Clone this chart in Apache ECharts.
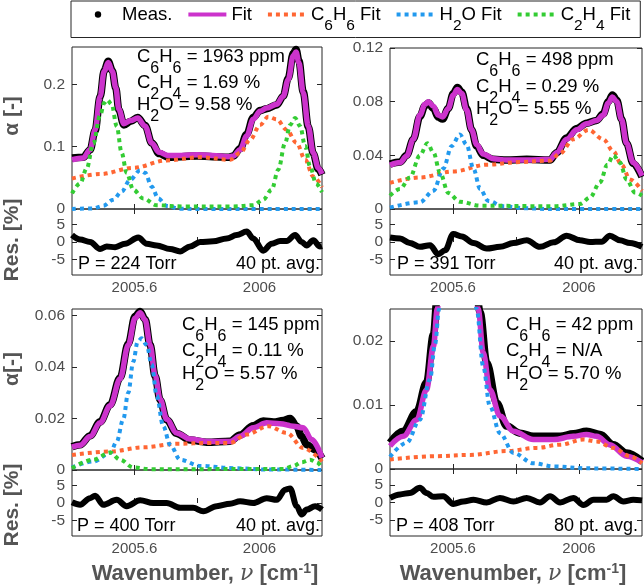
<!DOCTYPE html>
<html>
<head>
<meta charset="utf-8">
<script src="https://cdn.jsdelivr.net/npm/echarts@6/dist/echarts.min.js"></script>
<style>
  html, body { margin: 0; padding: 0; background: #fff; }
  #chart { width: 644px; height: 586px; }
</style>
</head>
<body>
<div id="chart"></div>
<script>
// ---- data: [wavenumber cm-1, value] ----
// top left (224 Torr)
const tlMeas = [[2005.400,0.082],[2005.436,0.083],[2005.458,0.095],[2005.474,0.126],[2005.490,0.180],[2005.503,0.222],[2005.516,0.237],[2005.529,0.222],[2005.540,0.194],[2005.550,0.159],[2005.566,0.135],[2005.588,0.141],[2005.610,0.147],[2005.634,0.134],[2005.655,0.106],[2005.679,0.089],[2005.708,0.083],[2005.750,0.084],[2005.800,0.085],[2005.850,0.084],[2005.900,0.083],[2005.916,0.085],[2005.938,0.097],[2005.959,0.120],[2005.980,0.147],[2006.002,0.158],[2006.023,0.161],[2006.055,0.167],[2006.076,0.181],[2006.092,0.210],[2006.108,0.250],[2006.117,0.256],[2006.126,0.238],[2006.140,0.188],[2006.156,0.132],[2006.172,0.089],[2006.188,0.064],[2006.200,0.055]];
const tlFit = [[2005.400,0.079],[2005.436,0.082],[2005.458,0.095],[2005.474,0.127],[2005.490,0.181],[2005.503,0.221],[2005.516,0.235],[2005.529,0.221],[2005.540,0.195],[2005.550,0.160],[2005.566,0.137],[2005.588,0.142],[2005.610,0.146],[2005.634,0.133],[2005.655,0.106],[2005.679,0.091],[2005.708,0.086],[2005.750,0.086],[2005.800,0.087],[2005.850,0.086],[2005.900,0.084],[2005.916,0.085],[2005.938,0.095],[2005.959,0.117],[2005.980,0.144],[2006.002,0.157],[2006.023,0.162],[2006.055,0.168],[2006.076,0.181],[2006.092,0.208],[2006.108,0.246],[2006.117,0.252],[2006.126,0.235],[2006.140,0.187],[2006.156,0.133],[2006.172,0.090],[2006.188,0.066],[2006.200,0.056]];
const tlC6H6 = [[2005.400,0.049],[2005.490,0.056],[2005.596,0.066],[2005.703,0.078],[2005.810,0.083],[2005.906,0.079],[2005.938,0.090],[2005.970,0.111],[2006.002,0.135],[2006.028,0.148],[2006.055,0.144],[2006.087,0.127],[2006.119,0.106],[2006.146,0.079],[2006.172,0.052],[2006.200,0.035]];
const tlH2O = [[2005.400,0],[2005.468,0.001],[2005.500,0.005],[2005.532,0.015],[2005.559,0.028],[2005.586,0.047],[2005.618,0.062],[2005.634,0.058],[2005.655,0.036],[2005.676,0.017],[2005.703,0.005],[2005.746,0.0005],[2005.800,0],[2006.200,0]];
const tlC2H4 = [[2005.400,0.025],[2005.426,0.041],[2005.447,0.065],[2005.468,0.105],[2005.490,0.150],[2005.503,0.170],[2005.513,0.175],[2005.527,0.168],[2005.543,0.133],[2005.559,0.090],[2005.575,0.058],[2005.596,0.031],[2005.628,0.017],[2005.671,0.006],[2005.756,0.004],[2005.916,0.004],[2005.980,0.006],[2006.012,0.015],[2006.039,0.031],[2006.060,0.063],[2006.082,0.106],[2006.098,0.135],[2006.114,0.146],[2006.130,0.133],[2006.146,0.101],[2006.162,0.068],[2006.181,0.041],[2006.200,0.027]];
const tlRes = [[2005.400,2.0],[2005.426,0.7],[2005.458,0],[2005.490,-2.0],[2005.511,-1.3],[2005.538,-1.5],[2005.570,-0.5],[2005.612,1.3],[2005.639,-0.5],[2005.671,-1.0],[2005.714,-2.0],[2005.746,-2.7],[2005.778,-1.3],[2005.810,0],[2005.852,0.2],[2005.895,1.0],[2005.927,2.0],[2005.959,3.0],[2005.980,1.0],[2006.012,-2.5],[2006.039,-0.5],[2006.066,0.3],[2006.087,0.3],[2006.114,2.0],[2006.135,0],[2006.151,-1.0],[2006.172,0.5],[2006.194,-1.3],[2006.200,-1.2]];

// top right (391 Torr)
const trMeas = [[2005.400,0.0335],[2005.432,0.035],[2005.453,0.040],[2005.474,0.052],[2005.495,0.069],[2005.511,0.077],[2005.522,0.079],[2005.538,0.075],[2005.553,0.0685],[2005.567,0.067],[2005.585,0.075],[2005.601,0.086],[2005.614,0.0905],[2005.628,0.087],[2005.643,0.075],[2005.659,0.059],[2005.675,0.047],[2005.696,0.040],[2005.728,0.037],[2005.770,0.0365],[2005.834,0.037],[2005.908,0.0365],[2005.929,0.042],[2005.961,0.053],[2005.993,0.060],[2006.024,0.064],[2006.056,0.066],[2006.077,0.071],[2006.093,0.080],[2006.106,0.085],[2006.120,0.081],[2006.135,0.067],[2006.151,0.049],[2006.172,0.034],[2006.200,0.024]];
const trFit = [[2005.400,0.0326],[2005.432,0.0346],[2005.453,0.0395],[2005.474,0.052],[2005.495,0.070],[2005.511,0.078],[2005.522,0.080],[2005.538,0.0765],[2005.553,0.070],[2005.567,0.0686],[2005.585,0.075],[2005.601,0.085],[2005.614,0.089],[2005.628,0.086],[2005.643,0.074],[2005.659,0.059],[2005.675,0.048],[2005.696,0.041],[2005.728,0.0375],[2005.770,0.0365],[2005.834,0.0365],[2005.908,0.037],[2005.929,0.042],[2005.961,0.052],[2005.993,0.059],[2006.024,0.0635],[2006.056,0.066],[2006.077,0.070],[2006.093,0.079],[2006.106,0.0835],[2006.120,0.080],[2006.135,0.0667],[2006.151,0.049],[2006.172,0.0346],[2006.200,0.0247]];
const trC6H6 = [[2005.400,0.0195],[2005.495,0.0235],[2005.601,0.028],[2005.707,0.033],[2005.813,0.035],[2005.908,0.036],[2005.940,0.0415],[2005.982,0.052],[2006.030,0.059],[2006.077,0.052],[2006.109,0.043],[2006.135,0.033],[2006.162,0.022],[2006.200,0.0136]];
const trH2O = [[2005.400,0.001],[2005.495,0.005],[2005.538,0.0136],[2005.569,0.030],[2005.596,0.047],[2005.622,0.0556],[2005.643,0.048],[2005.665,0.030],[2005.686,0.015],[2005.712,0.006],[2005.760,0.002],[2005.834,0.0005],[2005.900,0],[2006.200,0]];
const trC2H4 = [[2005.400,0.010],[2005.432,0.015],[2005.463,0.0235],[2005.495,0.040],[2005.519,0.049],[2005.538,0.042],[2005.559,0.027],[2005.585,0.012],[2005.622,0.0054],[2005.686,0.0025],[2005.919,0.002],[2006.003,0.0037],[2006.035,0.0086],[2006.067,0.020],[2006.090,0.033],[2006.109,0.040],[2006.130,0.0346],[2006.151,0.022],[2006.178,0.0123],[2006.200,0.010]];
const trRes = [[2005.400,1.3],[2005.432,1.0],[2005.463,-0.3],[2005.495,-1.4],[2005.527,-0.9],[2005.553,-3.5],[2005.575,-2.4],[2005.601,2.3],[2005.628,1.6],[2005.665,-0.3],[2005.707,-1.9],[2005.749,-1.4],[2005.792,-0.3],[2005.834,0.5],[2005.876,-1.4],[2005.919,-0.1],[2005.961,1.8],[2006.003,0.5],[2006.035,0],[2006.072,0.1],[2006.098,1.8],[2006.130,0.5],[2006.162,-0.3],[2006.200,-1.4]];

// bottom left (400 Torr)
const blMeas = [[2005.400,0.0090],[2005.426,0.0098],[2005.458,0.0133],[2005.490,0.0187],[2005.522,0.0253],[2005.554,0.0358],[2005.580,0.0490],[2005.602,0.0597],[2005.618,0.0615],[2005.634,0.0585],[2005.650,0.0485],[2005.666,0.0365],[2005.682,0.0272],[2005.703,0.0195],[2005.735,0.0142],[2005.778,0.0116],[2005.831,0.0108],[2005.906,0.0112],[2005.938,0.0136],[2005.980,0.0172],[2006.012,0.0190],[2006.045,0.0186],[2006.076,0.0192],[2006.098,0.0200],[2006.119,0.0170],[2006.135,0.0131],[2006.151,0.0098],[2006.178,0.0079],[2006.200,0.0046]];
const blFit = [[2005.400,0.0089],[2005.426,0.0096],[2005.458,0.0130],[2005.490,0.0183],[2005.522,0.0249],[2005.554,0.0354],[2005.580,0.0485],[2005.602,0.0590],[2005.618,0.0610],[2005.634,0.0583],[2005.650,0.0485],[2005.666,0.0367],[2005.682,0.0275],[2005.703,0.0197],[2005.735,0.0144],[2005.778,0.0120],[2005.831,0.0111],[2005.906,0.0111],[2005.938,0.0131],[2005.980,0.0164],[2006.023,0.0183],[2006.066,0.0180],[2006.108,0.0170],[2006.140,0.0164],[2006.167,0.0118],[2006.200,0.0048]];
const blC6H6 = [[2005.400,0.0058],[2005.522,0.0072],[2005.628,0.0088],[2005.735,0.0102],[2005.842,0.0105],[2005.906,0.0105],[2005.959,0.0138],[2006.028,0.0170],[2006.087,0.0144],[2006.140,0.0085],[2006.200,0.0033]];
const blH2O = [[2005.400,0.0010],[2005.468,0.0033],[2005.522,0.0066],[2005.543,0.0110],[2005.564,0.0197],[2005.580,0.0300],[2005.596,0.0420],[2005.610,0.0498],[2005.623,0.0511],[2005.639,0.0485],[2005.655,0.0410],[2005.671,0.0288],[2005.692,0.0170],[2005.714,0.0098],[2005.746,0.0040],[2005.810,0.0016],[2005.916,0.0007],[2006.023,0.0002],[2006.200,0]];
const blC2H4 = [[2005.400,0.0007],[2005.468,0.0040],[2005.522,0.0068],[2005.554,0.0040],[2005.596,0.0010],[2005.650,0.0003],[2006.076,0.0004],[2006.108,0.0015],[2006.135,0.0030],[2006.162,0.0040],[2006.183,0.0030],[2006.200,0.0010]];
const blRes = [[2005.400,0.2],[2005.426,-0.5],[2005.458,1.4],[2005.474,2.1],[2005.500,-0.5],[2005.543,0.9],[2005.575,-0.9],[2005.618,0.8],[2005.660,0],[2005.703,0],[2005.746,-1.4],[2005.788,-1.4],[2005.820,-2.4],[2005.863,-0.9],[2005.906,-0.2],[2005.938,0.5],[2005.980,0],[2006.023,1.4],[2006.055,0.9],[2006.082,3.8],[2006.098,4.2],[2006.119,-0.9],[2006.135,-3.3],[2006.151,-1.9],[2006.178,-0.9],[2006.200,-1.9]];

// bottom right (408 Torr)
const brMeas = [[2005.400,0.0041],[2005.442,0.0059],[2005.485,0.0090],[2005.516,0.0135],[2005.538,0.0210],[2005.550,0.0270],[2005.567,0.0360],[2005.585,0.0470],[2005.601,0.0550],[2005.615,0.0580],[2005.631,0.0550],[2005.647,0.0470],[2005.662,0.0355],[2005.686,0.0245],[2005.707,0.0166],[2005.739,0.0103],[2005.770,0.0067],[2005.813,0.0056],[2005.855,0.0051],[2005.940,0.0051],[2005.982,0.0055],[2006.024,0.0059],[2006.067,0.0054],[2006.109,0.0038],[2006.151,0.0025],[2006.200,0.0012]];
const brFit = [[2005.400,0.0036],[2005.442,0.0051],[2005.485,0.0077],[2005.516,0.0124],[2005.538,0.0192],[2005.550,0.0250],[2005.567,0.0340],[2005.585,0.0450],[2005.601,0.0530],[2005.615,0.0560],[2005.631,0.0530],[2005.647,0.0450],[2005.662,0.0340],[2005.680,0.0250],[2005.696,0.0182],[2005.717,0.0124],[2005.749,0.0083],[2005.792,0.0059],[2005.855,0.0046],[2005.919,0.0046],[2005.982,0.0051],[2006.024,0.0054],[2006.056,0.0051],[2006.098,0.0038],[2006.151,0.0020],[2006.200,0.0010]];
const brC6H6 = [[2005.400,0.0015],[2005.548,0.0020],[2005.654,0.0022],[2005.770,0.0028],[2005.866,0.0033],[2005.940,0.0038],[2006.014,0.0046],[2006.056,0.0043],[2006.109,0.0033],[2006.162,0.0020],[2006.200,0.0009]];
const brH2O = [[2005.400,0.0019],[2005.453,0.0041],[2005.495,0.0077],[2005.527,0.0140],[2005.543,0.0195],[2005.556,0.0250],[2005.571,0.0340],[2005.588,0.0430],[2005.615,0.0510],[2005.641,0.0430],[2005.659,0.0340],[2005.675,0.0250],[2005.696,0.0160],[2005.717,0.0098],[2005.749,0.0056],[2005.792,0.0025],[2005.855,0.0009],[2005.919,0.0004],[2006.024,0.0001],[2006.200,0]];
const brRes = [[2005.400,1.3],[2005.432,2.3],[2005.463,2.7],[2005.495,4.2],[2005.516,2.7],[2005.538,1.6],[2005.569,1.8],[2005.601,-0.4],[2005.633,0.3],[2005.665,0.8],[2005.707,0],[2005.749,1.3],[2005.792,0.3],[2005.834,1.3],[2005.876,0],[2005.908,1.8],[2005.940,0],[2005.982,1.3],[2006.014,-0.7],[2006.046,0.8],[2006.088,0.8],[2006.109,1.8],[2006.141,0.3],[2006.172,0.8],[2006.200,0.6]];

// tick values and labels
const xTickValues = [2005.6, 2005.8, 2006.0];
const xLabelValues = [2005.6, 2006.0];
const resTickValues = [-5, 0, 5];
const yTickSets = [[0, 0.1, 0.2], [0, 0.04, 0.08, 0.12], [0, 0.02, 0.04, 0.06], [0, 0.01, 0.02]];
const yMaxes = [0.26, 0.12, 0.0625, 0.025];

// annotation texts
const concC6H6 = ['1963 ppm', '498 ppm', '145 ppm', '42 ppm'];
const concC2H4 = ['1.69 %', '0.29 %', '0.11 %', 'N/A'];
const concH2O = ['9.58 %', '5.55 %', '5.57 %', '5.70 %'];
const pressures = ['P = 224 Torr', 'P = 391 Torr', 'P = 400 Torr', 'P = 408 Torr'];
const averages = ['40 pt. avg.', '40 pt. avg.', '40 pt. avg.', '80 pt. avg.'];
const legendNames = ['Meas.', 'Fit', 'C6H6 Fit', 'H2O Fit', 'C2H4 Fit'];

// ---- layout ----
const FONT = 'Liberation Sans';
const FRAME = '#262626';
const LABEL = '#4d4d4d';
const COLORS = { meas: '#000000', fit: '#cc33cc', c6: '#ff6633', h2o: '#2299ee', c2: '#33cc33' };

const panels = [
  { left: 72,  top: 47,  width: 250, mainH: 162, resH: 66, data: [tlMeas, tlFit, tlC6H6, tlH2O, tlC2H4, tlRes] },
  { left: 390, top: 48,  width: 252, mainH: 161, resH: 66, data: [trMeas, trFit, trC6H6, trH2O, trC2H4, trRes] },
  { left: 72,  top: 309, width: 250, mainH: 161, resH: 66, data: [blMeas, blFit, blC6H6, blH2O, blC2H4, blRes] },
  { left: 390, top: 309, width: 252, mainH: 160, resH: 67, data: [brMeas, brFit, brC6H6, brH2O, null, brRes] }
];
// left x, then centre y of the three lines
const infoPos = [[137, 56.5, 83, 105], [476, 60, 86.5, 108.5], [182, 325, 351, 373.5], [506, 325, 351, 373.5]];
const pressPos = [[78, 264, 320], [397, 264, 638], [77, 526, 320], [396, 526, 638]];

function chemRich(f) {
  return f.replace(/([A-Za-z]+)|(\d+)/g, (m, a, d) => a ? '{n|' + a + '}' : '{s|' + d + '}');
}

const grids = [], xAxes = [], yAxes = [], series = [];

function valueAxisX(gi, pos, showTicks, showLabels) {
  return {
    type: 'value', gridIndex: gi, position: pos, min: 2005.4, max: 2006.2,
    axisLine: { show: false },
    axisTick: { show: showTicks, inside: true, length: 5, customValues: xTickValues, lineStyle: { color: FRAME } },
    axisLabel: { show: showLabels, customValues: xLabelValues, color: LABEL, fontSize: 15, fontFamily: FONT, margin: 5,
                 formatter: v => String(Math.round(v * 10) / 10) },
    splitLine: { show: false }
  };
}
function valueAxisY(gi, pos, min, max, ticks, showLabels) {
  return {
    type: 'value', gridIndex: gi, position: pos, min: min, max: max,
    axisLine: { show: false },
    axisTick: { show: true, inside: true, length: 5, customValues: ticks, lineStyle: { color: FRAME } },
    axisLabel: { show: showLabels, customValues: ticks, color: LABEL, fontSize: 15.5, fontFamily: FONT, margin: 7 },
    splitLine: { show: false }
  };
}
function line(name, data, axis, color, width, dotted, z) {
  return {
    name: name, type: 'line', xAxisIndex: axis, yAxisIndex: axis, data: data,
    showSymbol: false, symbol: name === 'Meas.' ? 'circle' : 'none',
    smooth: 0.35, smoothMonotone: 'x', clip: true, z: z, silent: true,
    lineStyle: { color: color, width: width, type: dotted ? [4, 4] : 'solid', cap: 'butt', join: 'round' },
    itemStyle: { color: color }
  };
}

panels.forEach((p, i) => {
  const gMain = 2 * i, gRes = 2 * i + 1;
  grids.push({ left: p.left, top: p.top, width: p.width, height: p.mainH, show: true, borderColor: FRAME, borderWidth: 1, backgroundColor: 'transparent' });
  grids.push({ left: p.left, top: p.top + p.mainH, width: p.width, height: p.resH, show: true, borderColor: FRAME, borderWidth: 1, backgroundColor: 'transparent' });
  xAxes.push(valueAxisX(gMain, 'bottom', true, false), valueAxisX(gMain, 'top', true, false),
             valueAxisX(gRes, 'bottom', true, true), valueAxisX(gRes, 'top', false, false));
  yAxes.push(valueAxisY(gMain, 'left', 0, yMaxes[i], yTickSets[i], true), valueAxisY(gMain, 'right', 0, yMaxes[i], yTickSets[i], false),
             valueAxisY(gRes, 'left', -9.5, 9.5, resTickValues, true), valueAxisY(gRes, 'right', -9.5, 9.5, resTickValues, false));
  const am = 4 * i, ar = 4 * i + 2;
  const [meas, fit, c6, h2o, c2, res] = p.data;
  series.push(line('Meas.', meas, am, COLORS.meas, 7.5, false, 2));
  series.push(line('Fit', fit, am, COLORS.fit, 5.5, false, 3));
  series.push(line('C6H6 Fit', c6, am, COLORS.c6, 4, true, 4));
  series.push(line('H2O Fit', h2o, am, COLORS.h2o, 4, true, 4));
  if (c2) series.push(line('C2H4 Fit', c2, am, COLORS.c2, 4, true, 4));
  series.push(line('Res', res, ar, '#000', 6, false, 3));
});

const annoRich = {
  n: { fontSize: 18.5, fontFamily: FONT, fill: '#000' },
  s: { fontSize: 16, fontFamily: FONT, fill: '#000', padding: [24, 0, 0, 0] }
};
const graphics = [];
panels.forEach((p, i) => {
  const rows = [
    chemRich('C6H6') + '{n| = ' + concC6H6[i] + '}',
    chemRich('C2H4') + '{n| = ' + concC2H4[i] + '}',
    chemRich('H2O') + '{n| = ' + concH2O[i] + '}'
  ];
  rows.forEach((txt, r) => {
    graphics.push({ type: 'text', x: infoPos[i][0], y: infoPos[i][r + 1], z: 100,
      style: { text: txt, rich: annoRich, fontSize: 18.5, fontFamily: FONT, fill: '#000', textVerticalAlign: 'middle' } });
  });
  graphics.push({ type: 'text', x: pressPos[i][0], y: pressPos[i][1], z: 100,
    style: { text: pressures[i], fontSize: 18, fontFamily: FONT, fill: '#000', textVerticalAlign: 'middle' } });
  graphics.push({ type: 'text', x: pressPos[i][2], y: pressPos[i][1], z: 100,
    style: { text: averages[i], fontSize: 18, fontFamily: FONT, fill: '#000', textAlign: 'right', textVerticalAlign: 'middle' } });
});
// axis titles
const titleStyle = { fontSize: 21, fontWeight: 'bold', fontFamily: FONT, fill: '#555', textAlign: 'center', textVerticalAlign: 'middle' };
[[116, 'α [-]'], [240, 'Res. [%]'], [369, 'α[-]'], [505, 'Res. [%]']].forEach(t => {
  graphics.push({ type: 'text', x: 12, y: t[0], rotation: Math.PI / 2, style: Object.assign({ text: t[1] }, titleStyle) });
});
const xTitleRich = {
  b: { fontSize: 22, fontWeight: 'bold', fontFamily: FONT, fill: '#555' },
  nu: { fontSize: 22, fontStyle: 'italic', fontFamily: 'DejaVu Serif', fill: '#555' },
  sup: { fontSize: 14, fontWeight: 'bold', fontFamily: FONT, fill: '#555', padding: [0, 0, 10, 0] }
};
[205, 513].forEach(cx => {
  graphics.push({ type: 'text', x: cx, y: 574,
    style: { text: '{b|Wavenumber, }{nu|ν}{b| [cm}{sup|-1}{b|]}', rich: xTitleRich, textAlign: 'center', textVerticalAlign: 'middle', fontSize: 22, fontFamily: FONT } });
});

const chart = echarts.init(document.getElementById('chart'), null, { renderer: 'canvas' });
chart.setOption({
  animation: false,
  backgroundColor: '#fff',
  grid: grids,
  xAxis: xAxes,
  yAxis: yAxes,
  series: series,
  legend: {
    data: legendNames.map(n => n === 'Meas.'
      ? { name: n, lineStyle: { opacity: 0 }, itemStyle: { opacity: 1, color: '#000' } }
      : { name: n }),
    left: 71, top: 1, orient: 'horizontal',
    itemWidth: 38, itemHeight: 8, itemGap: 14,
    padding: [4, 10, 4, 6],
    borderColor: FRAME, borderWidth: 1, borderRadius: 0,
    itemStyle: { opacity: 0 },
    lineStyle: { width: 4 },
    selectedMode: false,
    formatter: n => /\d/.test(n) ? chemRich(n.split(' ')[0]) + '{n| Fit}' : '{n|' + n + '}',
    textStyle: {
      fontSize: 18.5, fontFamily: FONT, color: '#000',
      rich: {
        n: { fontSize: 18.5, fontFamily: FONT, color: '#000' },
        s: { fontSize: 15.5, fontFamily: FONT, color: '#000', padding: [22, 0, 0, 0] }
      }
    }
  },
  graphic: graphics
});
</script>
</body>
</html>
